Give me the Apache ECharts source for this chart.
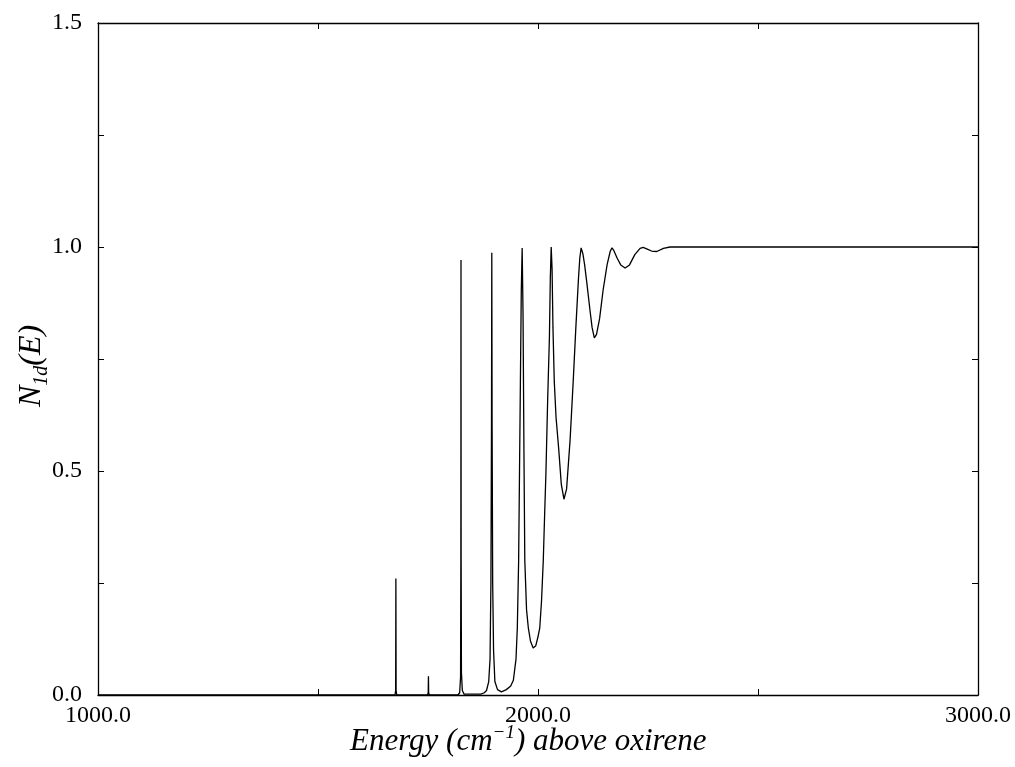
<!DOCTYPE html>
<html>
<head>
<meta charset="utf-8">
<script src="https://cdn.jsdelivr.net/npm/echarts@6/dist/echarts.min.js"></script>
<style>html,body{margin:0;padding:0;background:#fff;}#c{width:1015px;height:767px;}</style>
</head>
<body>
<div id="c"></div>
<script>
// Energy (cm^-1) above oxirene
var energy = [1000, 1675, 1676.5, 1677, 1677.5, 1679, 1749, 1750.5, 1751, 1751.5, 1753,
  1818, 1822, 1824, 1824.7, 1825, 1825.3, 1826, 1828, 1832, 1870, 1878, 1883, 1888, 1891,
  1893, 1894.3, 1895, 1895.7, 1897, 1899, 1902, 1908, 1917, 1928, 1938, 1944,
  1950, 1953, 1956, 1958, 1960, 1962, 1964, 1966, 1968, 1970, 1974, 1978, 1983, 1989,
  1995, 2000, 2004, 2008, 2012, 2015, 2018, 2022, 2026, 2028, 2030, 2032, 2034, 2037, 2041, 2047, 2053,
  2059, 2065, 2073, 2080, 2086, 2092, 2095, 2098, 2102, 2106, 2111, 2118, 2123, 2128, 2133, 2140, 2148, 2157,
  2164, 2168, 2172, 2180, 2188, 2198, 2208, 2220, 2232, 2239, 2247, 2258, 2270, 2285, 2300, 3000];
// N_1d(E)
var n1d = [0, 0, 0.01, 0.26, 0.01, 0, 0, 0.005, 0.042, 0.005, 0,
  0, 0.005, 0.04, 0.3, 0.971, 0.3, 0.05, 0.01, 0.002, 0.002, 0.005, 0.01, 0.03, 0.08,
  0.25, 0.6, 0.987, 0.6, 0.25, 0.1, 0.03, 0.012, 0.007, 0.012, 0.02, 0.033,
  0.08, 0.15, 0.3, 0.5, 0.7, 0.9, 0.998, 0.85, 0.55, 0.3, 0.19, 0.15, 0.12, 0.105,
  0.11, 0.13, 0.15, 0.21, 0.3, 0.4, 0.495, 0.66, 0.8, 0.93, 1.0, 0.95, 0.82, 0.7, 0.62, 0.55, 0.47,
  0.437, 0.46, 0.57, 0.7, 0.82, 0.93, 0.975, 0.998, 0.985, 0.96, 0.92, 0.86, 0.82, 0.797, 0.805, 0.84, 0.904, 0.96,
  0.99, 0.998, 0.993, 0.975, 0.96, 0.953, 0.96, 0.983, 0.997, 0.999, 0.996, 0.991, 0.99, 0.997, 1.0, 1.0];
var xTickLabels = [1000, 2000, 3000];
var yTickLabels = [0, 0.5, 1.0, 1.5];

var pts = energy.map(function (e, i) { return [e, n1d[i]]; });
var font = 'Liberation Serif';
var chart = echarts.init(document.getElementById('c'));
var axisCommon = {
  axisLine: { show: true, onZero: false, lineStyle: { color: '#000', width: 1.3 } },
  axisTick: { show: true, inside: true, length: 6, lineStyle: { color: '#000', width: 1 } },
  splitLine: { show: false }
};
chart.setOption({
  animation: false,
  backgroundColor: '#fff',
  grid: { left: 98, right: 37, top: 23, bottom: 72 },
  xAxis: [
    Object.assign({
      type: 'value', min: 1000, max: 3000, interval: 500, position: 'bottom',
      axisLabel: { margin: 9, color: '#000', fontFamily: font, fontSize: 24,
        formatter: function (v) { return xTickLabels.indexOf(v) >= 0 ? v.toFixed(1) : ''; } }
    }, axisCommon),
    Object.assign({
      type: 'value', min: 1000, max: 3000, interval: 500, position: 'top',
      axisLabel: { show: false }
    }, axisCommon)
  ],
  yAxis: [
    Object.assign({
      type: 'value', min: 0, max: 1.5, interval: 0.25, position: 'left',
      axisLabel: { margin: 16, color: '#000', fontFamily: font, fontSize: 24,
        formatter: function (v) { return yTickLabels.indexOf(v) >= 0 ? v.toFixed(1) : ''; } }
    }, axisCommon),
    Object.assign({
      type: 'value', min: 0, max: 1.5, interval: 0.25, position: 'right',
      axisLabel: { show: false }
    }, axisCommon)
  ],
  graphic: [
    {
      type: 'text', left: 350, top: 723,
      style: {
        text: '{a|Energy (cm}{s|−1}{a|) above oxirene}',
        rich: {
          a: { fontFamily: font, fontStyle: 'italic', fontSize: 31, fill: '#000', verticalAlign: 'middle', lineHeight: 38 },
          s: { fontFamily: font, fontStyle: 'italic', fontSize: 19, fill: '#000', verticalAlign: 'top', lineHeight: 12 }
        }
      }
    },
    {
      type: 'text', x: 12, y: 407, rotation: Math.PI / 2,
      style: {
        text: '{a|N}{s|1d}{a|(E)}',
        rich: {
          a: { fontFamily: font, fontStyle: 'italic', fontSize: 32, fill: '#000', verticalAlign: 'middle', lineHeight: 40 },
          s: { fontFamily: font, fontStyle: 'italic', fontSize: 20, fill: '#000', verticalAlign: 'bottom', lineHeight: 16 }
        }
      }
    }
  ],
  series: [{
    type: 'line', data: pts, showSymbol: false, smooth: false,
    xAxisIndex: 0, yAxisIndex: 0,
    lineStyle: { color: '#000', width: 1.3 }
  }]
});
</script>
</body>
</html>
